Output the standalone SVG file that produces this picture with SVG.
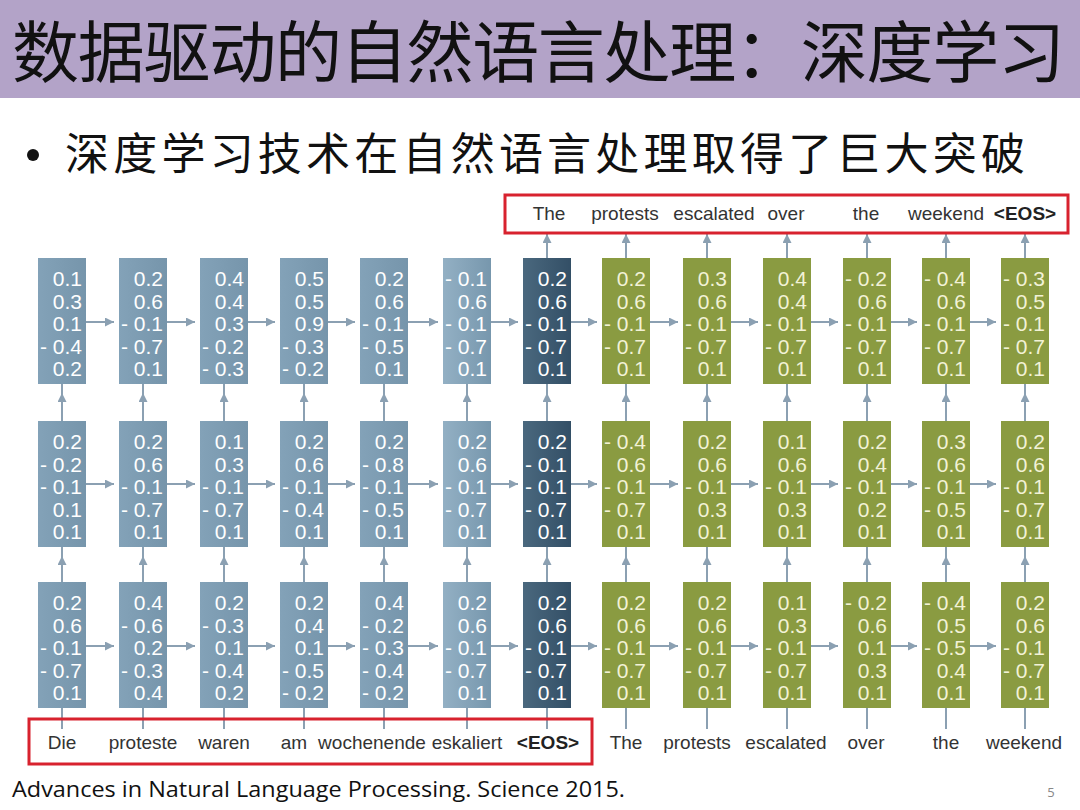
<svg xmlns="http://www.w3.org/2000/svg" width="1080" height="810" viewBox="0 0 1080 810">
<defs>
<linearGradient id="gb" x1="0" y1="0" x2="1" y2="0"><stop offset="0" stop-color="#83a2b8"/><stop offset="1" stop-color="#7695ab"/></linearGradient>
<linearGradient id="gl" x1="0" y1="0" x2="1" y2="0"><stop offset="0" stop-color="#93b0c4"/><stop offset="1" stop-color="#7797ad"/></linearGradient>
<linearGradient id="gd" x1="0" y1="0" x2="1" y2="0"><stop offset="0" stop-color="#4a687e"/><stop offset="1" stop-color="#334f66"/></linearGradient>
<marker id="ah" viewBox="0 0 10 10" refX="10" refY="5" markerWidth="10" markerHeight="9" markerUnits="userSpaceOnUse" orient="auto"><path d="M0,0 L10,5 L0,10 z" fill="#8ba0b2"/></marker>
<style>
.b{fill:url(#gb)} .l{fill:url(#gl)} .d{fill:url(#gd)} .g{fill:#8a9b41}
.nw{font-family:"Liberation Sans",Arial,sans-serif;font-size:21px;fill:#ffffff;text-anchor:end}
.ny{font-family:"Liberation Sans",Arial,sans-serif;font-size:21px;fill:#f2f2d6;text-anchor:end}
.lab{font-family:"Liberation Sans",Arial,sans-serif;font-size:19px;fill:#333333;text-anchor:middle}
.eos{font-weight:bold;fill:#222222}
.cn line,.cn polyline{stroke:#8ba0b2;stroke-width:2;fill:none}
.red{fill:none;stroke:#d8222e;stroke-width:3}
</style>
</defs>
<rect x="0" y="0" width="1080" height="810" fill="#ffffff"/>
<g id="title">
<rect x="0" y="0" width="1080" height="98" fill="#b3a3c8"/>
<text x="12" y="77" font-family="'Noto Sans CJK SC','Noto Sans CJK JP',sans-serif" font-size="67" fill="#111111" textLength="1053" lengthAdjust="spacing">数据驱动的自然语言处理：深度学习</text>
</g>
<g id="bullet">
<circle cx="33" cy="155" r="6" fill="#111111"/>
<text x="65" y="170" font-family="'Noto Sans CJK SC',sans-serif" font-size="44" fill="#111111" textLength="960" lengthAdjust="spacing">深度学习技术在自然语言处理取得了巨大突破</text>
</g>

<g id="connectors" class="cn">
<line x1="86" y1="322" x2="114" y2="322" marker-end="url(#ah)"/>
<line x1="167" y1="322" x2="195" y2="322" marker-end="url(#ah)"/>
<line x1="248" y1="322" x2="275" y2="322" marker-end="url(#ah)"/>
<line x1="328" y1="322" x2="355" y2="322" marker-end="url(#ah)"/>
<line x1="408" y1="322" x2="438" y2="322" marker-end="url(#ah)"/>
<line x1="491" y1="322" x2="518" y2="322" marker-end="url(#ah)"/>
<line x1="571" y1="322" x2="597" y2="322" marker-end="url(#ah)"/>
<line x1="650" y1="322" x2="678" y2="322" marker-end="url(#ah)"/>
<line x1="731" y1="322" x2="758" y2="322" marker-end="url(#ah)"/>
<line x1="811" y1="322" x2="838" y2="322" marker-end="url(#ah)"/>
<line x1="891" y1="322" x2="917" y2="322" marker-end="url(#ah)"/>
<line x1="970" y1="322" x2="996" y2="322" marker-end="url(#ah)"/>
<line x1="86" y1="484" x2="114" y2="484" marker-end="url(#ah)"/>
<line x1="167" y1="484" x2="195" y2="484" marker-end="url(#ah)"/>
<line x1="248" y1="484" x2="275" y2="484" marker-end="url(#ah)"/>
<line x1="328" y1="484" x2="355" y2="484" marker-end="url(#ah)"/>
<line x1="408" y1="484" x2="438" y2="484" marker-end="url(#ah)"/>
<line x1="491" y1="484" x2="518" y2="484" marker-end="url(#ah)"/>
<line x1="571" y1="484" x2="597" y2="484" marker-end="url(#ah)"/>
<line x1="650" y1="484" x2="678" y2="484" marker-end="url(#ah)"/>
<line x1="731" y1="484" x2="758" y2="484" marker-end="url(#ah)"/>
<line x1="811" y1="484" x2="838" y2="484" marker-end="url(#ah)"/>
<line x1="891" y1="484" x2="917" y2="484" marker-end="url(#ah)"/>
<line x1="970" y1="484" x2="996" y2="484" marker-end="url(#ah)"/>
<line x1="86" y1="646" x2="114" y2="646" marker-end="url(#ah)"/>
<line x1="167" y1="646" x2="195" y2="646" marker-end="url(#ah)"/>
<line x1="248" y1="646" x2="275" y2="646" marker-end="url(#ah)"/>
<line x1="328" y1="646" x2="355" y2="646" marker-end="url(#ah)"/>
<line x1="408" y1="646" x2="438" y2="646" marker-end="url(#ah)"/>
<line x1="491" y1="646" x2="518" y2="646" marker-end="url(#ah)"/>
<line x1="571" y1="646" x2="597" y2="646" marker-end="url(#ah)"/>
<line x1="650" y1="646" x2="678" y2="646" marker-end="url(#ah)"/>
<line x1="731" y1="646" x2="758" y2="646" marker-end="url(#ah)"/>
<line x1="811" y1="646" x2="838" y2="646" marker-end="url(#ah)"/>
<line x1="891" y1="646" x2="917" y2="646" marker-end="url(#ah)"/>
<line x1="970" y1="646" x2="996" y2="646" marker-end="url(#ah)"/>
<polyline points="62,421 62,393 62,384" marker-mid="url(#ah)"/>
<polyline points="143,421 143,393 143,384" marker-mid="url(#ah)"/>
<polyline points="224,421 224,393 224,384" marker-mid="url(#ah)"/>
<polyline points="304,421 304,393 304,384" marker-mid="url(#ah)"/>
<polyline points="384,421 384,393 384,384" marker-mid="url(#ah)"/>
<polyline points="467,421 467,393 467,384" marker-mid="url(#ah)"/>
<polyline points="547,421 547,393 547,384" marker-mid="url(#ah)"/>
<polyline points="626,421 626,393 626,384" marker-mid="url(#ah)"/>
<polyline points="707,421 707,393 707,384" marker-mid="url(#ah)"/>
<polyline points="787,421 787,393 787,384" marker-mid="url(#ah)"/>
<polyline points="867,421 867,393 867,384" marker-mid="url(#ah)"/>
<polyline points="946,421 946,393 946,384" marker-mid="url(#ah)"/>
<polyline points="1025,421 1025,393 1025,384" marker-mid="url(#ah)"/>
<polyline points="62,582 62,556 62,547" marker-mid="url(#ah)"/>
<polyline points="143,582 143,556 143,547" marker-mid="url(#ah)"/>
<polyline points="224,582 224,556 224,547" marker-mid="url(#ah)"/>
<polyline points="304,582 304,556 304,547" marker-mid="url(#ah)"/>
<polyline points="384,582 384,556 384,547" marker-mid="url(#ah)"/>
<polyline points="467,582 467,556 467,547" marker-mid="url(#ah)"/>
<polyline points="547,582 547,556 547,547" marker-mid="url(#ah)"/>
<polyline points="626,582 626,556 626,547" marker-mid="url(#ah)"/>
<polyline points="707,582 707,556 707,547" marker-mid="url(#ah)"/>
<polyline points="787,582 787,556 787,547" marker-mid="url(#ah)"/>
<polyline points="867,582 867,556 867,547" marker-mid="url(#ah)"/>
<polyline points="946,582 946,556 946,547" marker-mid="url(#ah)"/>
<polyline points="1025,582 1025,556 1025,547" marker-mid="url(#ah)"/>
<line x1="62" y1="729" x2="62" y2="708"/>
<line x1="143" y1="729" x2="143" y2="708"/>
<line x1="224" y1="729" x2="224" y2="708"/>
<line x1="304" y1="729" x2="304" y2="708"/>
<line x1="384" y1="729" x2="384" y2="708"/>
<line x1="467" y1="729" x2="467" y2="708"/>
<line x1="547" y1="729" x2="547" y2="708"/>
<line x1="626" y1="729" x2="626" y2="708"/>
<line x1="707" y1="729" x2="707" y2="708"/>
<line x1="787" y1="729" x2="787" y2="708"/>
<line x1="867" y1="729" x2="867" y2="708"/>
<line x1="946" y1="729" x2="946" y2="708"/>
<line x1="1025" y1="729" x2="1025" y2="708"/>
<line x1="547" y1="258" x2="547" y2="234" marker-end="url(#ah)"/>
<line x1="626" y1="258" x2="626" y2="234" marker-end="url(#ah)"/>
<line x1="707" y1="258" x2="707" y2="234" marker-end="url(#ah)"/>
<line x1="787" y1="258" x2="787" y2="234" marker-end="url(#ah)"/>
<line x1="867" y1="258" x2="867" y2="234" marker-end="url(#ah)"/>
<line x1="946" y1="258" x2="946" y2="234" marker-end="url(#ah)"/>
<line x1="1025" y1="258" x2="1025" y2="234" marker-end="url(#ah)"/>
</g>

<g id="t1"><rect class="b" x="38" y="258" width="48" height="126"/><text class="nw"><tspan x="82" y="286">0.1</tspan><tspan x="82" y="308.5">0.3</tspan><tspan x="82" y="331">0.1</tspan><tspan x="82" y="353.5">- 0.4</tspan><tspan x="82" y="376">0.2</tspan></text></g>
<g id="t2"><rect class="b" x="119" y="258" width="48" height="126"/><text class="nw"><tspan x="163" y="286">0.2</tspan><tspan x="163" y="308.5">0.6</tspan><tspan x="163" y="331">- 0.1</tspan><tspan x="163" y="353.5">- 0.7</tspan><tspan x="163" y="376">0.1</tspan></text></g>
<g id="t3"><rect class="b" x="200" y="258" width="48" height="126"/><text class="nw"><tspan x="244" y="286">0.4</tspan><tspan x="244" y="308.5">0.4</tspan><tspan x="244" y="331">0.3</tspan><tspan x="244" y="353.5">- 0.2</tspan><tspan x="244" y="376">- 0.3</tspan></text></g>
<g id="t4"><rect class="b" x="280" y="258" width="48" height="126"/><text class="nw"><tspan x="324" y="286">0.5</tspan><tspan x="324" y="308.5">0.5</tspan><tspan x="324" y="331">0.9</tspan><tspan x="324" y="353.5">- 0.3</tspan><tspan x="324" y="376">- 0.2</tspan></text></g>
<g id="t5"><rect class="b" x="360" y="258" width="48" height="126"/><text class="nw"><tspan x="404" y="286">0.2</tspan><tspan x="404" y="308.5">0.6</tspan><tspan x="404" y="331">- 0.1</tspan><tspan x="404" y="353.5">- 0.5</tspan><tspan x="404" y="376">0.1</tspan></text></g>
<g id="t6"><rect class="l" x="443" y="258" width="48" height="126"/><text class="nw"><tspan x="487" y="286">- 0.1</tspan><tspan x="487" y="308.5">0.6</tspan><tspan x="487" y="331">- 0.1</tspan><tspan x="487" y="353.5">- 0.7</tspan><tspan x="487" y="376">0.1</tspan></text></g>
<g id="t7"><rect class="d" x="523" y="258" width="48" height="126"/><text class="nw"><tspan x="567" y="286">0.2</tspan><tspan x="567" y="308.5">0.6</tspan><tspan x="567" y="331">- 0.1</tspan><tspan x="567" y="353.5">- 0.7</tspan><tspan x="567" y="376">0.1</tspan></text></g>
<g id="t8"><rect class="g" x="602" y="258" width="48" height="126"/><text class="ny"><tspan x="646" y="286">0.2</tspan><tspan x="646" y="308.5">0.6</tspan><tspan x="646" y="331">- 0.1</tspan><tspan x="646" y="353.5">- 0.7</tspan><tspan x="646" y="376">0.1</tspan></text></g>
<g id="t9"><rect class="g" x="683" y="258" width="48" height="126"/><text class="ny"><tspan x="727" y="286">0.3</tspan><tspan x="727" y="308.5">0.6</tspan><tspan x="727" y="331">- 0.1</tspan><tspan x="727" y="353.5">- 0.7</tspan><tspan x="727" y="376">0.1</tspan></text></g>
<g id="t10"><rect class="g" x="763" y="258" width="48" height="126"/><text class="ny"><tspan x="807" y="286">0.4</tspan><tspan x="807" y="308.5">0.4</tspan><tspan x="807" y="331">- 0.1</tspan><tspan x="807" y="353.5">- 0.7</tspan><tspan x="807" y="376">0.1</tspan></text></g>
<g id="t11"><rect class="g" x="843" y="258" width="48" height="126"/><text class="ny"><tspan x="887" y="286">- 0.2</tspan><tspan x="887" y="308.5">0.6</tspan><tspan x="887" y="331">- 0.1</tspan><tspan x="887" y="353.5">- 0.7</tspan><tspan x="887" y="376">0.1</tspan></text></g>
<g id="t12"><rect class="g" x="922" y="258" width="48" height="126"/><text class="ny"><tspan x="966" y="286">- 0.4</tspan><tspan x="966" y="308.5">0.6</tspan><tspan x="966" y="331">- 0.1</tspan><tspan x="966" y="353.5">- 0.7</tspan><tspan x="966" y="376">0.1</tspan></text></g>
<g id="t13"><rect class="g" x="1001" y="258" width="48" height="126"/><text class="ny"><tspan x="1045" y="286">- 0.3</tspan><tspan x="1045" y="308.5">0.5</tspan><tspan x="1045" y="331">- 0.1</tspan><tspan x="1045" y="353.5">- 0.7</tspan><tspan x="1045" y="376">0.1</tspan></text></g>

<g id="m1"><rect class="b" x="38" y="421" width="48" height="126"/><text class="nw"><tspan x="82" y="449">0.2</tspan><tspan x="82" y="471.5">- 0.2</tspan><tspan x="82" y="494">- 0.1</tspan><tspan x="82" y="516.5">0.1</tspan><tspan x="82" y="539">0.1</tspan></text></g>
<g id="m2"><rect class="b" x="119" y="421" width="48" height="126"/><text class="nw"><tspan x="163" y="449">0.2</tspan><tspan x="163" y="471.5">0.6</tspan><tspan x="163" y="494">- 0.1</tspan><tspan x="163" y="516.5">- 0.7</tspan><tspan x="163" y="539">0.1</tspan></text></g>
<g id="m3"><rect class="b" x="200" y="421" width="48" height="126"/><text class="nw"><tspan x="244" y="449">0.1</tspan><tspan x="244" y="471.5">0.3</tspan><tspan x="244" y="494">- 0.1</tspan><tspan x="244" y="516.5">- 0.7</tspan><tspan x="244" y="539">0.1</tspan></text></g>
<g id="m4"><rect class="b" x="280" y="421" width="48" height="126"/><text class="nw"><tspan x="324" y="449">0.2</tspan><tspan x="324" y="471.5">0.6</tspan><tspan x="324" y="494">- 0.1</tspan><tspan x="324" y="516.5">- 0.4</tspan><tspan x="324" y="539">0.1</tspan></text></g>
<g id="m5"><rect class="b" x="360" y="421" width="48" height="126"/><text class="nw"><tspan x="404" y="449">0.2</tspan><tspan x="404" y="471.5">- 0.8</tspan><tspan x="404" y="494">- 0.1</tspan><tspan x="404" y="516.5">- 0.5</tspan><tspan x="404" y="539">0.1</tspan></text></g>
<g id="m6"><rect class="l" x="443" y="421" width="48" height="126"/><text class="nw"><tspan x="487" y="449">0.2</tspan><tspan x="487" y="471.5">0.6</tspan><tspan x="487" y="494">- 0.1</tspan><tspan x="487" y="516.5">- 0.7</tspan><tspan x="487" y="539">0.1</tspan></text></g>
<g id="m7"><rect class="d" x="523" y="421" width="48" height="126"/><text class="nw"><tspan x="567" y="449">0.2</tspan><tspan x="567" y="471.5">- 0.1</tspan><tspan x="567" y="494">- 0.1</tspan><tspan x="567" y="516.5">- 0.7</tspan><tspan x="567" y="539">0.1</tspan></text></g>
<g id="m8"><rect class="g" x="602" y="421" width="48" height="126"/><text class="ny"><tspan x="646" y="449">- 0.4</tspan><tspan x="646" y="471.5">0.6</tspan><tspan x="646" y="494">- 0.1</tspan><tspan x="646" y="516.5">- 0.7</tspan><tspan x="646" y="539">0.1</tspan></text></g>
<g id="m9"><rect class="g" x="683" y="421" width="48" height="126"/><text class="ny"><tspan x="727" y="449">0.2</tspan><tspan x="727" y="471.5">0.6</tspan><tspan x="727" y="494">- 0.1</tspan><tspan x="727" y="516.5">0.3</tspan><tspan x="727" y="539">0.1</tspan></text></g>
<g id="m10"><rect class="g" x="763" y="421" width="48" height="126"/><text class="ny"><tspan x="807" y="449">0.1</tspan><tspan x="807" y="471.5">0.6</tspan><tspan x="807" y="494">- 0.1</tspan><tspan x="807" y="516.5">0.3</tspan><tspan x="807" y="539">0.1</tspan></text></g>
<g id="m11"><rect class="g" x="843" y="421" width="48" height="126"/><text class="ny"><tspan x="887" y="449">0.2</tspan><tspan x="887" y="471.5">0.4</tspan><tspan x="887" y="494">- 0.1</tspan><tspan x="887" y="516.5">0.2</tspan><tspan x="887" y="539">0.1</tspan></text></g>
<g id="m12"><rect class="g" x="922" y="421" width="48" height="126"/><text class="ny"><tspan x="966" y="449">0.3</tspan><tspan x="966" y="471.5">0.6</tspan><tspan x="966" y="494">- 0.1</tspan><tspan x="966" y="516.5">- 0.5</tspan><tspan x="966" y="539">0.1</tspan></text></g>
<g id="m13"><rect class="g" x="1001" y="421" width="48" height="126"/><text class="ny"><tspan x="1045" y="449">0.2</tspan><tspan x="1045" y="471.5">0.6</tspan><tspan x="1045" y="494">- 0.1</tspan><tspan x="1045" y="516.5">- 0.7</tspan><tspan x="1045" y="539">0.1</tspan></text></g>

<g id="b1"><rect class="b" x="38" y="582" width="48" height="126"/><text class="nw"><tspan x="82" y="610">0.2</tspan><tspan x="82" y="632.5">0.6</tspan><tspan x="82" y="655">- 0.1</tspan><tspan x="82" y="677.5">- 0.7</tspan><tspan x="82" y="700">0.1</tspan></text></g>
<g id="b2"><rect class="b" x="119" y="582" width="48" height="126"/><text class="nw"><tspan x="163" y="610">0.4</tspan><tspan x="163" y="632.5">- 0.6</tspan><tspan x="163" y="655">0.2</tspan><tspan x="163" y="677.5">- 0.3</tspan><tspan x="163" y="700">0.4</tspan></text></g>
<g id="b3"><rect class="b" x="200" y="582" width="48" height="126"/><text class="nw"><tspan x="244" y="610">0.2</tspan><tspan x="244" y="632.5">- 0.3</tspan><tspan x="244" y="655">0.1</tspan><tspan x="244" y="677.5">- 0.4</tspan><tspan x="244" y="700">0.2</tspan></text></g>
<g id="b4"><rect class="b" x="280" y="582" width="48" height="126"/><text class="nw"><tspan x="324" y="610">0.2</tspan><tspan x="324" y="632.5">0.4</tspan><tspan x="324" y="655">0.1</tspan><tspan x="324" y="677.5">- 0.5</tspan><tspan x="324" y="700">- 0.2</tspan></text></g>
<g id="b5"><rect class="b" x="360" y="582" width="48" height="126"/><text class="nw"><tspan x="404" y="610">0.4</tspan><tspan x="404" y="632.5">- 0.2</tspan><tspan x="404" y="655">- 0.3</tspan><tspan x="404" y="677.5">- 0.4</tspan><tspan x="404" y="700">- 0.2</tspan></text></g>
<g id="b6"><rect class="l" x="443" y="582" width="48" height="126"/><text class="nw"><tspan x="487" y="610">0.2</tspan><tspan x="487" y="632.5">0.6</tspan><tspan x="487" y="655">- 0.1</tspan><tspan x="487" y="677.5">- 0.7</tspan><tspan x="487" y="700">0.1</tspan></text></g>
<g id="b7"><rect class="d" x="523" y="582" width="48" height="126"/><text class="nw"><tspan x="567" y="610">0.2</tspan><tspan x="567" y="632.5">0.6</tspan><tspan x="567" y="655">- 0.1</tspan><tspan x="567" y="677.5">- 0.7</tspan><tspan x="567" y="700">0.1</tspan></text></g>
<g id="b8"><rect class="g" x="602" y="582" width="48" height="126"/><text class="ny"><tspan x="646" y="610">0.2</tspan><tspan x="646" y="632.5">0.6</tspan><tspan x="646" y="655">- 0.1</tspan><tspan x="646" y="677.5">- 0.7</tspan><tspan x="646" y="700">0.1</tspan></text></g>
<g id="b9"><rect class="g" x="683" y="582" width="48" height="126"/><text class="ny"><tspan x="727" y="610">0.2</tspan><tspan x="727" y="632.5">0.6</tspan><tspan x="727" y="655">- 0.1</tspan><tspan x="727" y="677.5">- 0.7</tspan><tspan x="727" y="700">0.1</tspan></text></g>
<g id="b10"><rect class="g" x="763" y="582" width="48" height="126"/><text class="ny"><tspan x="807" y="610">0.1</tspan><tspan x="807" y="632.5">0.3</tspan><tspan x="807" y="655">- 0.1</tspan><tspan x="807" y="677.5">- 0.7</tspan><tspan x="807" y="700">0.1</tspan></text></g>
<g id="b11"><rect class="g" x="843" y="582" width="48" height="126"/><text class="ny"><tspan x="887" y="610">- 0.2</tspan><tspan x="887" y="632.5">0.6</tspan><tspan x="887" y="655">0.1</tspan><tspan x="887" y="677.5">0.3</tspan><tspan x="887" y="700">0.1</tspan></text></g>
<g id="b12"><rect class="g" x="922" y="582" width="48" height="126"/><text class="ny"><tspan x="966" y="610">- 0.4</tspan><tspan x="966" y="632.5">0.5</tspan><tspan x="966" y="655">- 0.5</tspan><tspan x="966" y="677.5">0.4</tspan><tspan x="966" y="700">0.1</tspan></text></g>
<g id="b13"><rect class="g" x="1001" y="582" width="48" height="126"/><text class="ny"><tspan x="1045" y="610">0.2</tspan><tspan x="1045" y="632.5">0.6</tspan><tspan x="1045" y="655">- 0.1</tspan><tspan x="1045" y="677.5">- 0.7</tspan><tspan x="1045" y="700">0.1</tspan></text></g>

<g id="outputs">
<rect class="red" x="505" y="195" width="563" height="38"/>
<text class="lab" x="549" y="220">The</text>
<text class="lab" x="625" y="220">protests</text>
<text class="lab" x="714" y="220">escalated</text>
<text class="lab" x="786" y="220">over</text>
<text class="lab" x="866" y="220">the</text>
<text class="lab" x="946" y="220">weekend</text>
<text class="lab eos" x="1025" y="220">&lt;EOS&gt;</text>
</g>

<g id="inputs">
<rect class="red" x="29" y="719" width="563" height="45"/>
<text class="lab" x="62" y="749">Die</text>
<text class="lab" x="143" y="749">proteste</text>
<text class="lab" x="224" y="749">waren</text>
<text class="lab" x="294" y="749">am</text>
<text class="lab" x="372" y="749">wochenende</text>
<text class="lab" x="467" y="749">eskaliert</text>
<text class="lab eos" x="548" y="749">&lt;EOS&gt;</text>
<text class="lab" x="626" y="749">The</text>
<text class="lab" x="697" y="749">protests</text>
<text class="lab" x="786" y="749">escalated</text>
<text class="lab" x="866" y="749">over</text>
<text class="lab" x="946" y="749">the</text>
<text class="lab" x="1024" y="749">weekend</text>
</g>

<g id="footer">
<text x="12" y="797" font-family="'Open Sans','Noto Sans',sans-serif" font-size="22" fill="#111111" textLength="613" lengthAdjust="spacingAndGlyphs">Advances in Natural Language Processing. Science 2015.</text>
<text x="1051" y="797" font-family="'Open Sans',sans-serif" font-size="13" fill="#888888" text-anchor="middle">5</text>
</g>
</svg>
